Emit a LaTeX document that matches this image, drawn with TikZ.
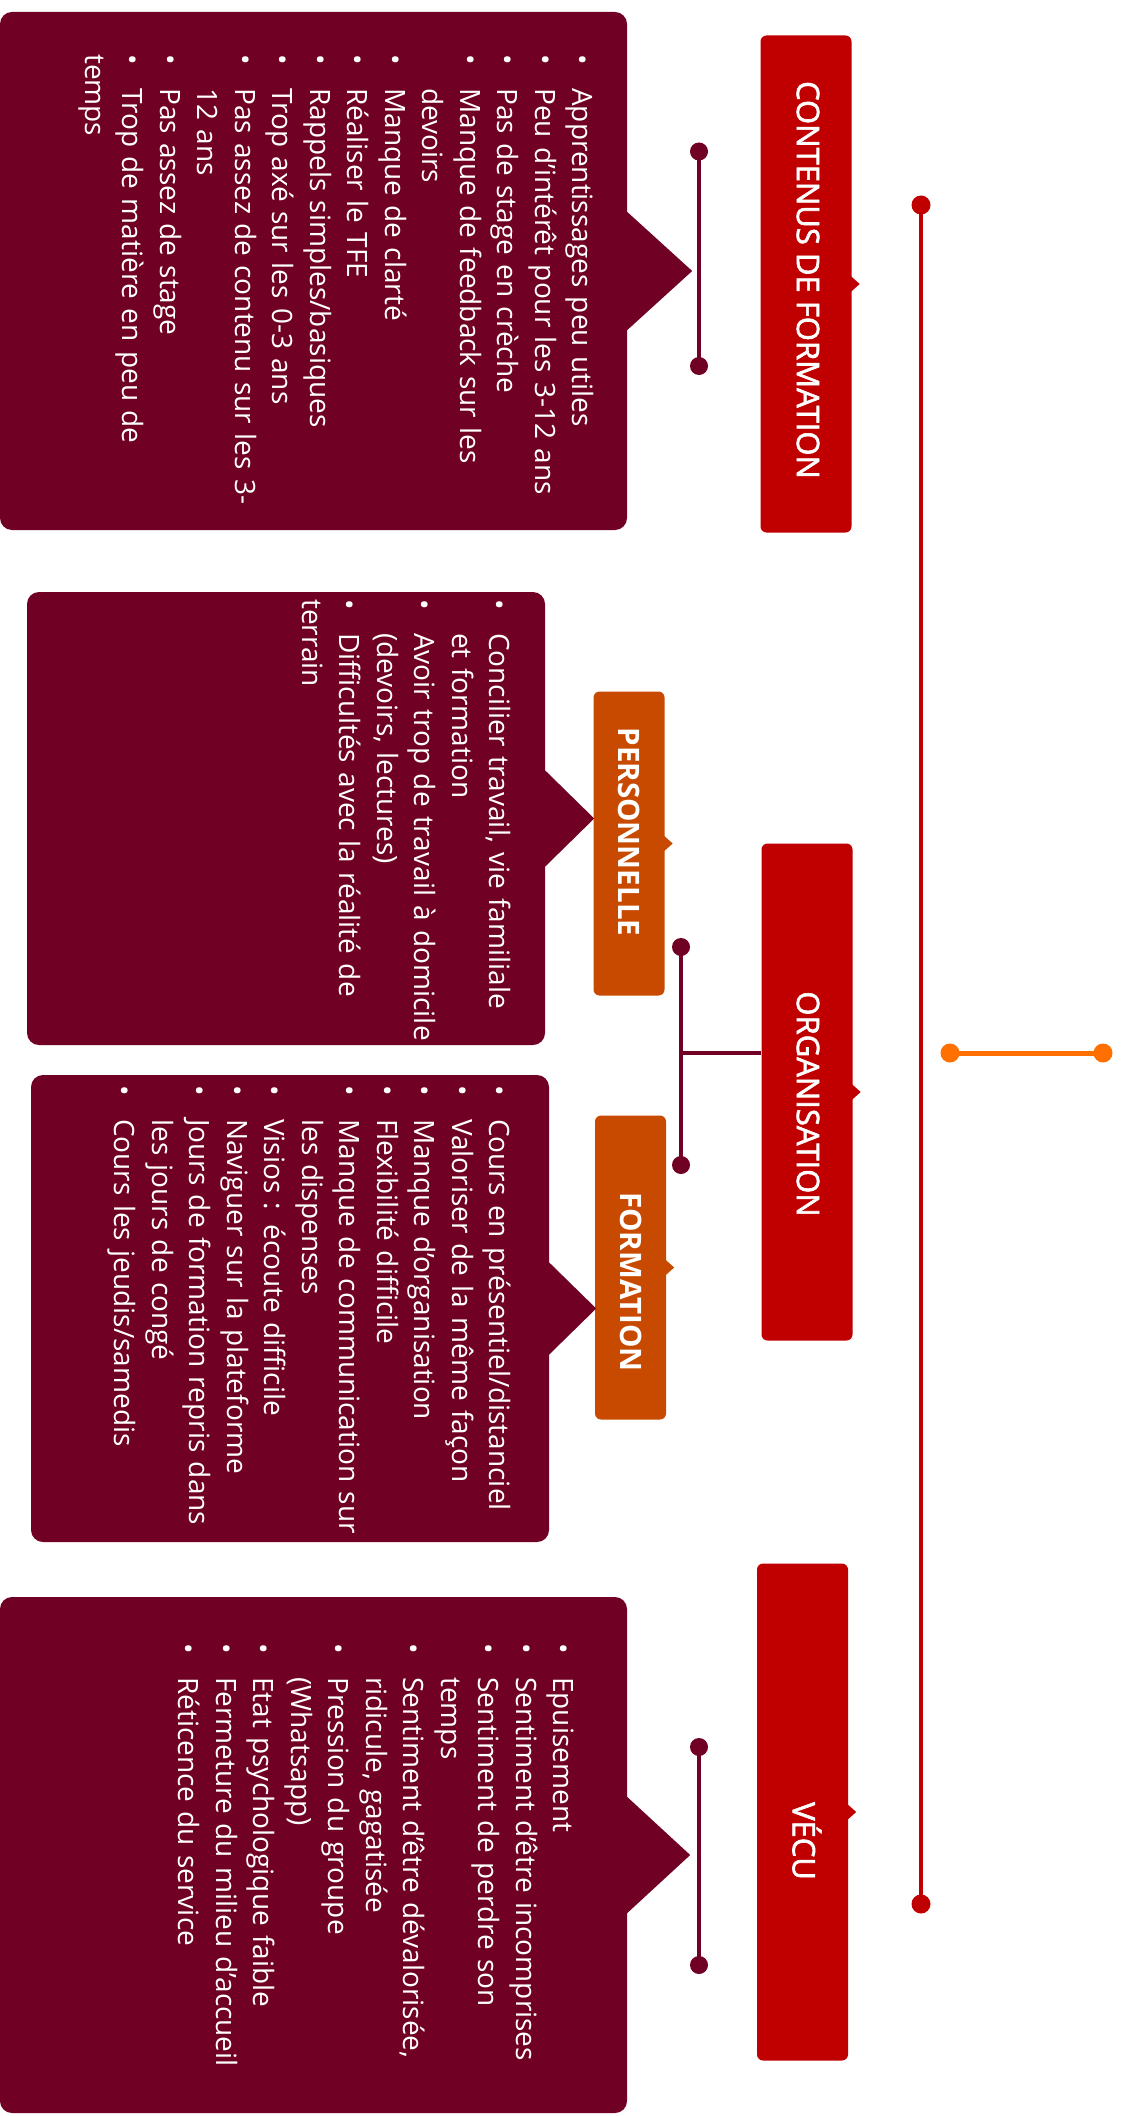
\documentclass[tikz,border=0pt]{standalone}
\usepackage{fontspec}
\setmainfont{Open Sans}
\newfontface\redhead{Open Sans}[FakeBold=2]
\usetikzlibrary{calc}
\definecolor{cMaroon}{RGB}{112,0,36}
\definecolor{cRed}{RGB}{192,0,0}
\definecolor{cOrangeBox}{RGB}{200,74,0}
\definecolor{cOrange}{RGB}{255,112,0}
\newcommand\itm[1]{\par\hangindent=34pt\hangafter=1\noindent\makebox[34pt][l]{\textbullet}#1}
\newcommand\nl{\break}
\newcommand\notch[2]{\fill[#1] ($(#2.east)+(-1,-8)$) -- ($(#2.east)+(8,0)$) -- ($(#2.east)+(-1,8)$) -- cycle;}
\begin{document}
\begin{tikzpicture}[x=1pt,y=-1pt,
  headbox/.style={rounded corners=6pt, inner sep=0pt},
  redbox/.style={headbox, fill=cRed, minimum width=91pt, minimum height=497pt},
  orbox/.style={headbox, fill=cOrangeBox, minimum width=71pt, minimum height=304pt},
  redtext/.style={rotate=-90, text=white, font=\redhead\fontsize{31}{33}\selectfont, inner sep=0pt},
  ortext/.style={rotate=-90, text=white, font=\bfseries\fontsize{29.5}{32}\selectfont, inner sep=0pt},
  callout/.style={fill=cMaroon, rounded corners=12pt, inner sep=0pt},
  listtext/.style={rotate=-90, anchor=base west, text=white, inner sep=0pt, text width=700pt, align=left, font=\fontsize{28}{37.5}\selectfont},
  dot/.style={circle, inner sep=0pt, minimum size=19pt},
  bdot/.style={dot, fill=cMaroon, minimum size=18pt},
  bline/.style={draw=cMaroon, line width=4pt}
]
\useasboundingbox (0,0) rectangle (1122,2116);

% ---- timeline ----
\node[dot, fill=cRed] (tTop) at (921,205) {};
\node[dot, fill=cRed] (tBot) at (921,1904) {};
\draw[cRed, line width=4.5pt] (tTop.center) -- (tBot.center);
\node[dot, fill=cOrange] (oL) at (950,1053) {};
\node[dot, fill=cOrange] (oR) at (1103,1053) {};
\draw[cOrange, line width=5pt] (oL.center) -- (oR.center);

% ---- label boxes ----
\node[redbox] (cont) at (806,284) {};
\node[redtext] (contT) at (808,280) {CONTENUS DE FORMATION};
\node[redbox] (org) at (807,1092) {};
\node[redtext] (orgT) at (808,1104) {ORGANISATION};
\node[redbox] (vecu) at (802.5,1812) {};
\node[redtext] (vecuT) at (807,1841) {VÉCU};
\node[orbox] (pers) at (629,843.5) {};
\node[ortext] (persT) at (629.5,832) {PERSONNELLE};
\node[orbox] (form) at (630.5,1267.5) {};
\node[ortext] (formT) at (631,1282) {FORMATION};
\notch{cRed}{cont}
\notch{cRed}{org}
\notch{cRed}{vecu}
\notch{cOrangeBox}{pers}
\notch{cOrangeBox}{form}

% ---- brackets ----
\node[bdot] (bC1) at (699,151.5) {};
\node[bdot] (bC2) at (699,366) {};
\draw[bline] (bC1.center) -- (bC2.center);
\node[bdot] (bV1) at (699,1747) {};
\node[bdot] (bV2) at (699,1965) {};
\draw[bline] (bV1.center) -- (bV2.center);
\node[bdot] (bO1) at (681,947) {};
\node[bdot] (bO2) at (681,1165) {};
\draw[bline] (bO1.center) -- (bO2.center);
\coordinate (bOm) at (681,1053);
\draw[bline] (bOm) -- (bOm -| org.west);

% ---- callouts ----
\node[callout, minimum width=627pt, minimum height=518pt] (cC) at (313.5,271) {};
\fill[cMaroon] ($(cC.east)+(-1,-60)$) -- ($(cC.east)+(65,0)$) -- ($(cC.east)+(-1,60)$) -- cycle;
\node[callout, minimum width=518pt, minimum height=453pt] (pC) at (286,818.5) {};
\fill[cMaroon] ($(pC.east)+(-1,-49)$) -- ($(pC.east)+(49,0)$) -- ($(pC.east)+(-1,49)$) -- cycle;
\node[callout, minimum width=518pt, minimum height=467pt] (fC) at (290,1308.5) {};
\fill[cMaroon] ($(fC.east)+(-1,-47)$) -- ($(fC.east)+(47,0)$) -- ($(fC.east)+(-1,47)$) -- cycle;
\node[callout, minimum width=627pt, minimum height=516pt] (vC) at (313.5,1855) {};
\fill[cMaroon] ($(vC.east)+(-1,-59)$) -- ($(vC.east)+(63,0)$) -- ($(vC.east)+(-1,59)$) -- cycle;

% ---- lists ----
\node[listtext] (cL) at (610,54) {%
\itm{Apprentissages peu utiles}
\itm{Peu d'intérêt pour les 3-12 ans}
\itm{Pas de stage en crèche}
\itm{Manque de feedback sur les\nl devoirs}
\itm{Manque de clarté}
\itm{Réaliser le TFE}
\itm{Rappels simples/basiques}
\itm{Trop axé sur les 0-3 ans}
\itm{Pas assez de contenu sur les 3-\nl 12 ans}
\itm{Pas assez de stage}
\itm{Trop de matière en peu de\nl temps}};

\node[listtext] (pL) at (527,599) {%
\itm{Concilier travail, vie familiale\nl et formation}
\itm{Avoir trop de travail à domicile\nl (devoirs, lectures)}
\itm{Difficultés avec la réalité de\nl terrain}};

\node[listtext] (fL) at (527,1085) {%
\itm{Cours en présentiel/distanciel}
\itm{Valoriser de la même façon}
\itm{Manque d'organisation}
\itm{Flexibilité difficile}
\itm{Manque de communication sur\nl les dispenses}
\itm{Visios : écoute difficile}
\itm{Naviguer sur la plateforme}
\itm{Jours de formation repris dans\nl les jours de congé}
\itm{Cours les jeudis/samedis}};

\node[listtext] (vL) at (591,1643) {%
\itm{Epuisement}
\itm{Sentiment d'être incomprises}
\itm{Sentiment de perdre son\nl temps}
\itm{Sentiment d'être dévalorisée,\nl ridicule, gagatisée}
\itm{Pression du groupe\nl (Whatsapp)}
\itm{Etat psychologique faible}
\itm{Fermeture du milieu d'accueil}
\itm{Réticence du service}};
\end{tikzpicture}
\end{document}
